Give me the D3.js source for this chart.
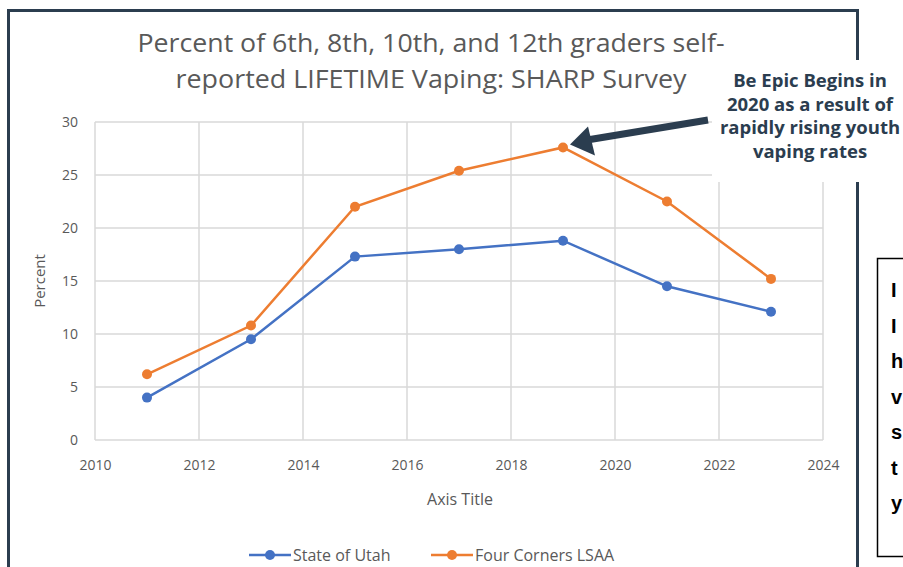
<!DOCTYPE html>
<html>
<head>
<meta charset="utf-8">
<script src="https://cdn.jsdelivr.net/npm/d3@7"></script>
<style>
  body { margin: 0; background: #fff; overflow: hidden; }
  svg text { font-family: "Open Sans", sans-serif; }
</style>
</head>
<body>
<div id="graphic"></div>
<script>
(function() {

// chart data
var years = [2011, 2013, 2015, 2017, 2019, 2021, 2023];
var utah = [4.0, 9.5, 17.3, 18.0, 18.8, 14.5, 12.1];
var fourCorners = [6.2, 10.8, 22.0, 25.4, 27.6, 22.5, 15.2];
var seriesNames = ['State of Utah', 'Four Corners LSAA'];
var seriesColors = ['#4472c4', '#ed7d31'];
var xTicks = [2010, 2012, 2014, 2016, 2018, 2020, 2022, 2024];
var yTicks = [0, 5, 10, 15, 20, 25, 30];
var titleLines = ['Percent of 6th, 8th, 10th, and 12th graders self-', 'reported LIFETIME Vaping: SHARP Survey'];
var noteLines = ['Be Epic Begins in', '2020 as a result of', 'rapidly rising youth', 'vaping rates'];
var sideLines = ['I', 'I', 'h', 'v', 's', 't', 'y'];

var W = 903, H = 567;
var margin = {top: 122, right: 80, bottom: 127, left: 95},
    width = W - margin.left - margin.right,
    height = H - margin.top - margin.bottom;

var x = d3.scaleLinear().domain([2010, 2024]).range([0, width]);
var y = d3.scaleLinear().domain([0, 30]).range([height, 0]);

var svg = d3.select('#graphic').append('svg')
    .attr('width', W)
    .attr('height', H);

// outer frame of the chart
svg.append('rect')
    .attr('x', 8.5).attr('y', 10.5)
    .attr('width', 849).attr('height', 600)
    .attr('fill', '#fff')
    .attr('stroke', '#2b3d4f')
    .attr('stroke-width', 3);

// title
svg.selectAll('.title').data(titleLines).enter().append('text')
    .attr('class', 'title')
    .attr('x', 431)
    .attr('y', function(d, i) { return 52 + i * 36; })
    .attr('text-anchor', 'middle')
    .attr('fill', '#595959')
    .style('font-size', '25px')
    .attr('textLength', function(d, i) { return i == 0 ? 587 : 511; })
    .attr('lengthAdjust', 'spacingAndGlyphs')
    .text(function(d) { return d; });

var g = svg.append('g')
    .attr('transform', 'translate(' + margin.left + ',' + margin.top + ')');

// gridlines
g.selectAll('.hgrid').data(yTicks).enter().append('line')
    .attr('x1', 0).attr('x2', width)
    .attr('y1', function(d) { return y(d); })
    .attr('y2', function(d) { return y(d); })
    .attr('stroke', '#d9d9d9')
    .attr('stroke-width', 1.5);

g.selectAll('.vgrid').data(xTicks).enter().append('line')
    .attr('x1', function(d) { return x(d); })
    .attr('x2', function(d) { return x(d); })
    .attr('y1', 0).attr('y2', height)
    .attr('stroke', '#d9d9d9')
    .attr('stroke-width', 1.5);

// axes (labels only, lines drawn by the grid)
var xAxis = g.append('g')
    .attr('transform', 'translate(0,' + height + ')')
    .call(d3.axisBottom(x).tickValues(xTicks).tickFormat(d3.format('d')).tickSize(0).tickPadding(20));
var yAxis = g.append('g')
    .call(d3.axisLeft(y).tickValues(yTicks).tickSize(0).tickPadding(17));
[xAxis, yAxis].forEach(function(a) {
  a.select('.domain').remove();
  a.selectAll('text')
      .attr('fill', '#595959')
      .style('font-size', '14px')
      .style('font-family', '"Open Sans", sans-serif');
});

// axis titles
g.append('text')
    .attr('transform', 'rotate(-90)')
    .attr('x', -height / 2)
    .attr('y', -50)
    .attr('text-anchor', 'middle')
    .attr('fill', '#595959')
    .style('font-size', '15px')
    .text('Percent');

g.append('text')
    .attr('x', x(2017) + 1)
    .attr('y', height + 65)
    .attr('text-anchor', 'middle')
    .attr('fill', '#595959')
    .style('font-size', '16px')
    .text('Axis Title');

// lines
var series = [utah, fourCorners];
var line = d3.line()
    .x(function(d, i) { return x(years[i]); })
    .y(function(d) { return y(d); });

series.forEach(function(vals, k) {
  g.append('path')
      .datum(vals)
      .attr('fill', 'none')
      .attr('stroke', seriesColors[k])
      .attr('stroke-width', 2.5)
      .attr('d', line);

  g.selectAll('.dot' + k).data(vals).enter().append('circle')
      .attr('cx', function(d, i) { return x(years[i]); })
      .attr('cy', function(d) { return y(d); })
      .attr('r', 5)
      .attr('fill', seriesColors[k]);
});

// legend
var legend = svg.append('g').attr('transform', 'translate(249,555)');
seriesNames.forEach(function(name, k) {
  var lx = k * 182;
  legend.append('line')
      .attr('x1', lx).attr('x2', lx + 42)
      .attr('y1', 0).attr('y2', 0)
      .attr('stroke', seriesColors[k])
      .attr('stroke-width', 2.5);
  legend.append('circle')
      .attr('cx', lx + 21).attr('cy', 0).attr('r', 5)
      .attr('fill', seriesColors[k]);
  legend.append('text')
      .attr('x', lx + 44).attr('y', 5.5)
      .attr('fill', '#595959')
      .style('font-size', '16px')
      .text(name);
});

// annotation box covering the corner of the chart
svg.append('rect')
    .attr('x', 712).attr('y', 60)
    .attr('width', 191).attr('height', 122)
    .attr('fill', '#fff');

svg.selectAll('.note').data(noteLines).enter().append('text')
    .attr('x', 810)
    .attr('y', function(d, i) { return 87 + i * 23.5; })
    .attr('text-anchor', 'middle')
    .attr('fill', '#2b3d4f')
    .style('font-family', '"Open Sans", sans-serif')
    .style('font-weight', 'bold')
    .style('font-size', '18.5px')
    .text(function(d) { return d; });

// arrow pointing at the 2019 peak
var tipX = margin.left + x(2019) + 7, tipY = margin.top + y(fourCorners[4]) - 3;
svg.append('line')
    .attr('x1', 708).attr('y1', 120)
    .attr('x2', tipX + 20).attr('y2', tipY - 5)
    .attr('stroke', '#2b3d4f')
    .attr('stroke-width', 7);
svg.append('path')
    .attr('d', 'M' + tipX + ',' + tipY + 'L' + (tipX + 18) + ',' + (tipY - 18) +
               'L' + (tipX + 25) + ',' + (tipY + 11) + 'Z')
    .attr('fill', '#2b3d4f');

// side text box, cut off by the window edge
svg.append('rect')
    .attr('x', 877.5).attr('y', 258.5)
    .attr('width', 60).attr('height', 298)
    .attr('fill', '#fff')
    .attr('stroke', '#000')
    .attr('stroke-width', 1.5);
svg.selectAll('.side').data(sideLines).enter().append('text')
    .attr('x', 891)
    .attr('y', function(d, i) { return 297 + i * 35.5; })
    .attr('fill', '#000')
    .style('font-family', '"Liberation Sans", Arial, sans-serif')
    .style('font-weight', 'bold')
    .style('font-size', '20px')
    .text(function(d) { return d; });

})();
</script>
</body>
</html>
